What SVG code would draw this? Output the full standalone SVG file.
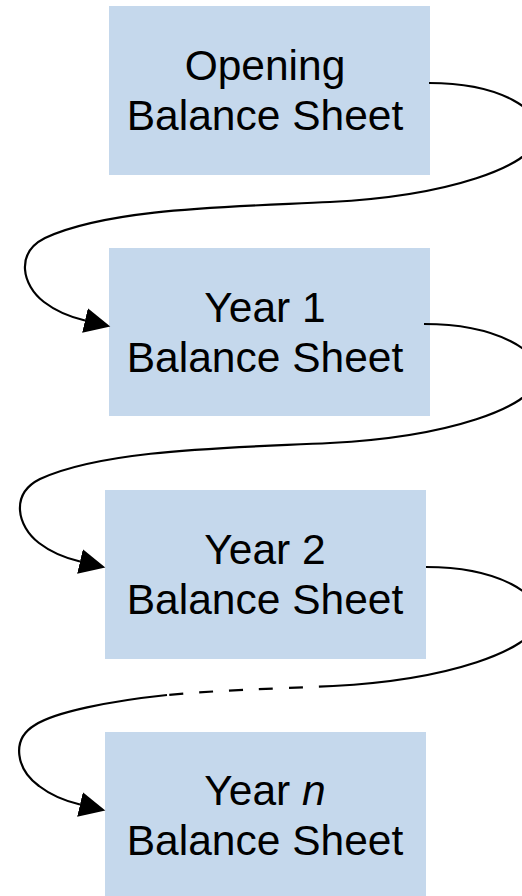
<svg xmlns="http://www.w3.org/2000/svg" width="522" height="896" viewBox="0 0 522 896">
<defs>
<style>
.box{fill:#c5d8ec;}
.lbl{font-family:"Liberation Sans",Arial,sans-serif;font-size:42.5px;fill:#000;text-anchor:middle;}
.con{fill:none;stroke:#000;stroke-width:2.2;}
.dash{stroke-dasharray:14 16;}
</style>
<marker id="arr" markerUnits="userSpaceOnUse" viewBox="0 -13 27 26" markerWidth="27" markerHeight="26" refX="0" refY="0" orient="auto">
<path d="M0,-12.5 L26,0 L0,12.5 z" fill="#000"/>
</marker>
</defs>
<rect width="522" height="896" fill="#fff"/>
<g id="node-opening">
<rect class="box" x="109" y="6" width="321" height="169"/>
<text class="lbl" x="265" y="80">Opening</text>
<text class="lbl" x="265" y="130">Balance Sheet</text>
</g>
<g id="node-year1">
<rect class="box" x="109" y="248" width="321" height="168"/>
<text class="lbl" x="265" y="322">Year 1</text>
<text class="lbl" x="265" y="372">Balance Sheet</text>
</g>
<g id="node-year2">
<rect class="box" x="105" y="490" width="321" height="169"/>
<text class="lbl" x="265" y="564">Year 2</text>
<text class="lbl" x="265" y="614">Balance Sheet</text>
</g>
<g id="node-yearn">
<rect class="box" x="105" y="732" width="321" height="170"/>
<text class="lbl" x="265" y="805">Year <tspan font-style="italic">n</tspan></text>
<text class="lbl" x="265" y="855">Balance Sheet</text>
</g>
<g id="connectors">
<path class="con" marker-end="url(#arr)" d="M429,83 C500,83 545,110 538,138 C531,166 450,196 330,202 C230,207 110,208 45,238 C15,253 22,285 44,302 C57,312 70,317 85,320.5"/>
<path class="con" marker-end="url(#arr)" d="M424,324 C495,324 545,351 538,379 C531,407 450,437 330,443 C230,448 105,449 40,479 C10,494 17,526 39,543 C52,553 65,558 80,561.5"/>
<path class="con" d="M426,567 C497,567 545,594 538,622 C531,650 450,680 333,686"/>
<path class="con dash" d="M333,686 C270,689 220,690 167,695"/>
<path class="con" marker-end="url(#arr)" d="M167,695 C110,701 55,712 35,725 C10,740 17,770 39,786 C52,796 65,801 80,804.5"/>
</g>
</svg>
